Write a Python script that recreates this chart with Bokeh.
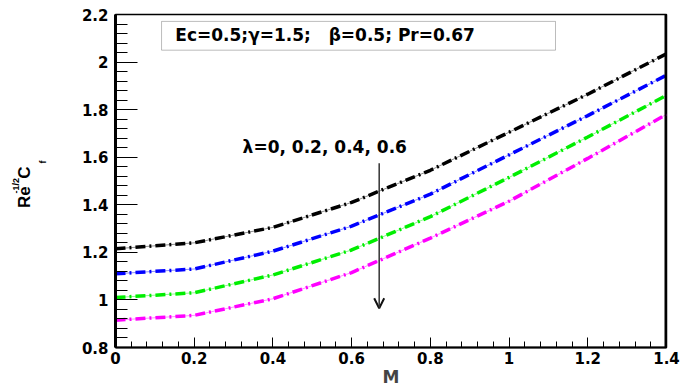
from bokeh.plotting import figure
from bokeh.layouts import row
from bokeh.models import (FixedTicker, Label, Span, Arrow, OpenHead, BoxAnnotation,
                          Range1d)
from bokeh.embed import file_html
from bokeh.resources import INLINE
from math import pi

# Skin-friction coefficient vs magnetic parameter M for several lambda
M = [0.0, 0.2, 0.4, 0.6, 0.8, 1.0, 1.2, 1.4]
cf_lam0 = [1.215, 1.24, 1.305, 1.41, 1.545, 1.705, 1.865, 2.035]
cf_lam02 = [1.11, 1.13, 1.205, 1.31, 1.445, 1.61, 1.775, 1.945]
cf_lam04 = [1.01, 1.03, 1.105, 1.21, 1.35, 1.515, 1.685, 1.86]
cf_lam06 = [0.915, 0.935, 1.005, 1.115, 1.26, 1.415, 1.595, 1.78]

series = [cf_lam0, cf_lam02, cf_lam04, cf_lam06]
colors = ["#000000", "#0000ff", "#00ee00", "#ff00ff"]

x_ticks = [0.0, 0.2, 0.4, 0.6, 0.8, 1.0, 1.2, 1.4]
x_tick_labels = ["0", "0.2", "0.4", "0.6", "0.8", "1", "1.2", "1.4"]
y_ticks = [0.8, 1.0, 1.2, 1.4, 1.6, 1.8, 2.0, 2.2]
y_tick_labels = ["0.8", "1", "1.2", "1.4", "1.6", "1.8", "2", "2.2"]

NB = "\u00a0"
params_text = "Ec=0.5;\u03b3=1.5;" + NB * 3 + "\u03b2=0.5;" + NB + "Pr=0.67"
lambda_text = "\u03bb=0, 0.2, 0.4, 0.6"

FONT = "DejaVu Sans"
TITLE_W = 50

# ---- narrow strip holding the rotated y title Re^{-1/2} C_f ----
t = figure(width=TITLE_W, height=389, output_backend="svg", toolbar_location=None,
           x_range=Range1d(0, TITLE_W), y_range=Range1d(0, 389),
           x_axis_type=None, y_axis_type=None, min_border=0)
t.grid.visible = False
t.outline_line_color = None
t.background_fill_color = "white"
t.border_fill_color = "white"

lbl_kw = dict(angle=pi / 2, text_font="Liberation Sans", text_font_style="bold",
              text_align="left", text_baseline="alphabetic", text_color="black")
t.add_layout(Label(x=24, y=163, text="Re", text_font_size="17px", **lbl_kw))
t.add_layout(Label(x=15, y=180, text="-1/2", text_font_size="9px", **lbl_kw))
t.add_layout(Label(x=24, y=197, text="C", text_font_size="17px", **lbl_kw))
t.add_layout(Label(x=42, y=215, text="f", text_font_size="9px", **lbl_kw))

# ---- main chart ----
p = figure(width=683 - TITLE_W, height=389, output_backend="svg", toolbar_location=None,
           x_range=Range1d(0, 1.4), y_range=Range1d(0.8, 2.2),
           min_border_left=115 - TITLE_W, min_border_right=17, min_border_top=14,
           min_border_bottom=37)
p.grid.visible = False
p.background_fill_color = "white"
p.border_fill_color = "white"
p.outline_line_color = "black"
p.outline_line_width = 1.5

# Curves: faint solid core with a thick dash-dot overlay
for ys, c in zip(series, colors):
    p.line(M, ys, line_color=c, line_width=1, line_alpha=0.45)
    p.line(M, ys, line_color=c, line_width=3.5, line_dash="10 4 2 4")

# Axes
xa = p.xaxis[0]
xa.ticker = FixedTicker(ticks=x_ticks,
                        minor_ticks=[round(i * 0.04, 2) for i in range(36)])
xa.major_label_overrides = dict(zip(x_ticks, x_tick_labels))
xa.axis_line_width = 2
xa.major_tick_in = 10
xa.major_tick_out = 0
xa.minor_tick_in = 6
xa.minor_tick_out = 0
xa.major_label_text_font = FONT
xa.major_label_text_font_style = "bold"
xa.major_label_text_font_size = "15px"
xa.major_label_text_color = "black"
xa.major_label_standoff = 4
xa.axis_label = "M"
xa.axis_label_text_font = FONT
xa.axis_label_text_font_style = "bold"
xa.axis_label_text_font_size = "17px"
xa.axis_label_standoff = 0

ya = p.yaxis[0]
ya.ticker = FixedTicker(ticks=y_ticks,
                        minor_ticks=[round(0.8 + i * 0.04, 2) for i in range(36)])
ya.major_label_overrides = dict(zip(y_ticks, y_tick_labels))
ya.axis_line_width = 3
ya.major_tick_in = 22
ya.major_tick_out = 0
ya.minor_tick_in = 12
ya.minor_tick_out = 0
ya.major_label_text_font = FONT
ya.major_label_text_font_style = "bold"
ya.major_label_text_font_size = "15px"
ya.major_label_text_color = "black"
ya.major_label_standoff = 7

# Heavy right border
p.add_layout(Span(location=1.4, dimension="height", line_color="black", line_width=4))

# Parameter box
p.add_layout(BoxAnnotation(left=0.117, right=1.118, bottom=2.05, top=2.171,
                           fill_color="white", fill_alpha=1.0,
                           line_color="#222222", line_width=1))
p.add_layout(Label(x=0.152, y=2.112, text=params_text, text_font=FONT,
                   text_font_style="bold", text_font_size="17px",
                   text_baseline="middle", text_color="black"))

# Lambda annotation with downward arrow
p.add_layout(Label(x=0.323, y=1.645, text=lambda_text, text_font=FONT,
                   text_font_style="bold", text_font_size="17px",
                   text_baseline="middle", text_color="black"))
p.add_layout(Arrow(x_start=0.67, y_start=1.575, x_end=0.67, y_end=0.965,
                   line_color="#333333", line_width=1.5,
                   end=OpenHead(size=10, line_color="#111111", line_width=2)))

layout = row(t, p)
open("out.html", "w").write(file_html(layout, INLINE))
